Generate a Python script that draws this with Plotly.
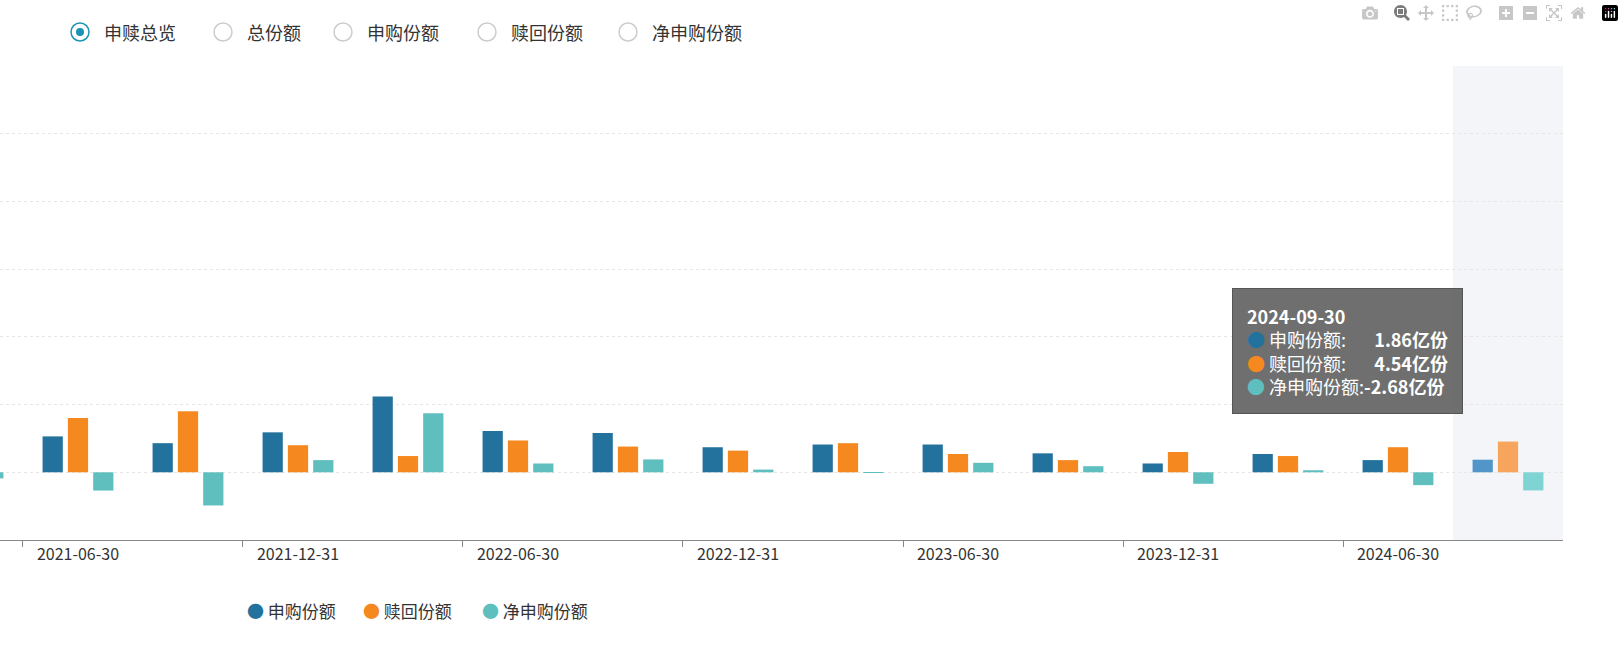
import plotly.graph_objects as go

dates = ["2021-03-31", "2021-06-30", "2021-09-30", "2021-12-31",
         "2022-03-31", "2022-06-30", "2022-09-30", "2022-12-31",
         "2023-03-31", "2023-06-30", "2023-09-30", "2023-12-31",
         "2024-03-31", "2024-06-30", "2024-09-30"]
subscribe = [3.0, 5.3, 4.3, 5.9, 11.2, 6.1, 5.8, 3.7, 4.1, 4.1, 2.8, 1.3, 2.7, 1.8, 1.86]
redeem = [3.9, 8.0, 9.0, 4.0, 2.4, 4.7, 3.8, 3.2, 4.3, 2.7, 1.8, 3.0, 2.4, 3.7, 4.54]
net = [-0.9, -2.7, -4.9, 1.8, 8.7, 1.3, 1.9, 0.4, -0.1, 1.4, 0.9, -1.7, 0.3, -1.9, -2.68]
series_names = ["申购份额", "赎回份额", "净申购份额"]
radio_labels = ["申赎总览", "总份额", "申购份额", "赎回份额", "净申购份额"]

colors = ["#23729e", "#f5891f", "#5fbfbf"]
hover_colors = ["#5295c8", "#f7a55c", "#7fd3d3"]
FONT = "Noto Sans CJK SC, Noto Sans, sans-serif"

idx = list(range(len(dates)))
hover_i = len(dates) - 1

fig = go.Figure()
for name, vals, c, hc in zip(series_names, [subscribe, redeem, net], colors, hover_colors):
    cols = [hc if i == hover_i else c for i in idx]
    fig.add_trace(go.Bar(x=idx, y=vals, name=name, marker=dict(color=cols, line_width=0)))

# boundary ticks on an overlay axis
fig.add_trace(go.Scatter(x=[idx[0]], y=[0], xaxis="x2", mode="markers",
                         marker_opacity=0, showlegend=False, hoverinfo="skip"))

label_idx = idx[1::2]
fig.update_layout(
    width=1624, height=670,
    margin=dict(l=0, r=61, t=66, b=130),
    paper_bgcolor="white", plot_bgcolor="white",
    font=dict(family=FONT, size=15, color="#333"),
    barmode="group", bargap=0.31, bargroupgap=0.2,
    showlegend=False,
    xaxis=dict(range=[0.291, 14.5], tickvals=label_idx,
               ticktext=[dates[i] for i in label_idx], ticks="",
               showgrid=False, zeroline=False, showline=True,
               linecolor="#888", linewidth=1,
               tickfont=dict(size=16, color="#333")),
    xaxis2=dict(range=[0.291, 14.5], overlaying="x", side="bottom",
                anchor="y", tickvals=[i - 0.5 for i in label_idx],
                showticklabels=False, ticks="outside", ticklen=6,
                tickcolor="#888", showgrid=False, zeroline=False),
    yaxis=dict(range=[-10, 60], dtick=10, showticklabels=False,
               showgrid=True, gridcolor="#e6e6e6", griddash="dot",
               zeroline=False, showline=False),
)

# hover shading on the last category
fig.add_shape(type="rect", xref="x", yref="paper", x0=hover_i - 0.5, x1=hover_i + 0.5,
              y0=0, y1=1, fillcolor="#f3f5f9", line_width=0, layer="below")

# radio buttons
radio_x = [80, 223, 343, 487, 628]
W = 1563.0
H = 474.0
ry = (540 - 32) / H
for k, (lab, px) in enumerate(zip(radio_labels, radio_x)):
    sel = k == 0
    fig.add_shape(type="circle", xref="paper", yref="paper",
                  xsizemode="pixel", ysizemode="pixel",
                  xanchor=px / W, yanchor=ry, x0=-9, x1=9, y0=-9, y1=9,
                  line=dict(color="#1a93b5" if sel else "#cccccc", width=1.5),
                  fillcolor="white")
    if sel:
        fig.add_shape(type="circle", xref="paper", yref="paper",
                      xsizemode="pixel", ysizemode="pixel",
                      xanchor=px / W, yanchor=ry, x0=-4, x1=4, y0=-4, y1=4,
                      line_width=0, fillcolor="#1a93b5")
    fig.add_annotation(xref="paper", yref="paper", x=(px + 22) / W, y=ry,
                       text=lab, showarrow=False, xanchor="left", yanchor="middle",
                       font=dict(size=18, color="#333"))

# bottom legend
leg_x = [254, 370, 489]
ly = (540 - 610) / H
for name, c, px in zip(series_names, colors, leg_x):
    fig.add_annotation(xref="paper", yref="paper", x=(px - 9) / W, y=ly,
                       text=f"<span style='color:{c}'>●</span> {name}",
                       showarrow=False, xanchor="left", yanchor="middle",
                       font=dict(size=17, color="#333"))

# tooltip
tip = (f"<b>{dates[hover_i]}</b><br>"
       f"<span style='color:{colors[0]}'>●</span> {series_names[0]}:       <b>{subscribe[hover_i]:.2f}亿份</b><br>"
       f"<span style='color:{colors[1]}'>●</span> {series_names[1]}:       <b>{redeem[hover_i]:.2f}亿份</b><br>"
       f"<span style='color:{colors[2]}'>●</span> {series_names[2]}:<b>{net[hover_i]:.2f}亿份</b>")
fig.add_annotation(xref="paper", yref="paper", x=1232 / W, y=(540 - 288) / H,
                   text=tip, showarrow=False, xanchor="left", yanchor="top",
                   align="left", bgcolor="rgba(95,95,95,0.9)", bordercolor="#555",
                   borderwidth=1, borderpad=14,
                   font=dict(size=18, color="white"))

fig.write_html("out.html", post_script="document.body.style.margin='0';")
